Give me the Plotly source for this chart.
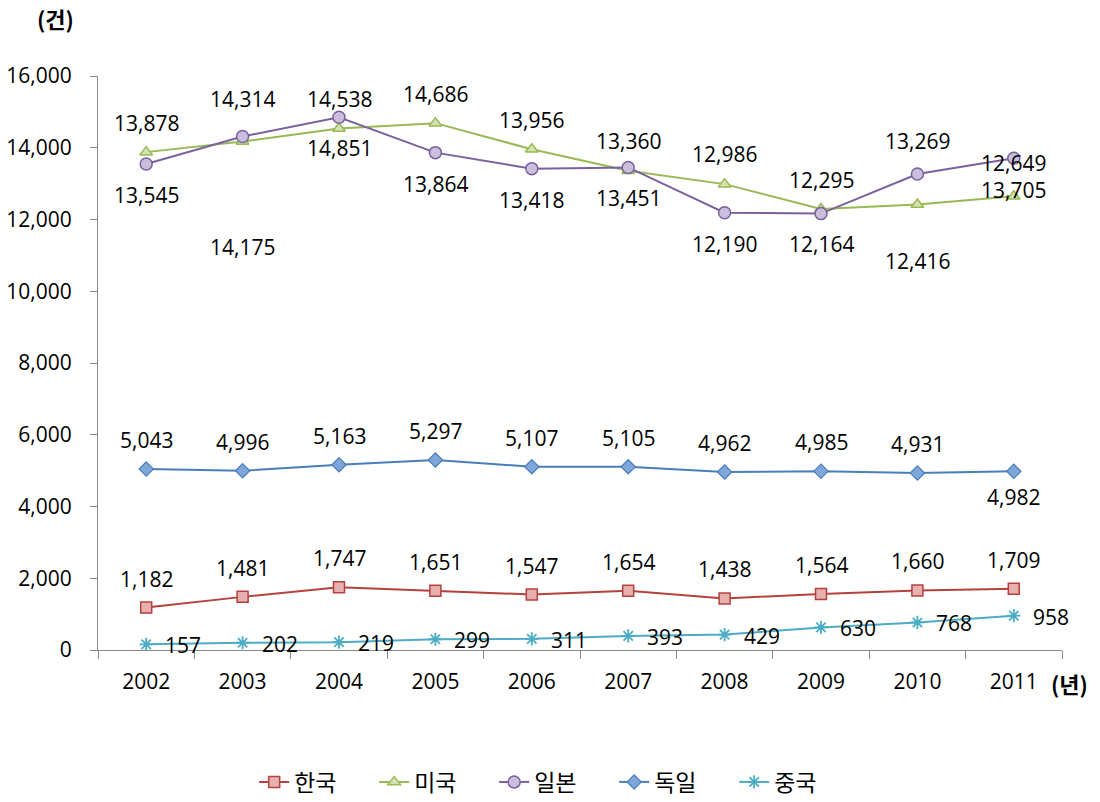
import plotly.graph_objects as go

years = ["2002", "2003", "2004", "2005", "2006", "2007", "2008", "2009", "2010", "2011"]
korea = [1182, 1481, 1747, 1651, 1547, 1654, 1438, 1564, 1660, 1709]
usa = [13878, 14175, 14538, 14686, 13956, 13360, 12986, 12295, 12416, 12649]
japan = [13545, 14314, 14851, 13864, 13418, 13451, 12190, 12164, 13269, 13705]
germany = [5043, 4996, 5163, 5297, 5107, 5105, 4962, 4985, 4931, 4982]
china = [157, 202, 219, 299, 311, 393, 429, 630, 768, 958]
y_ticks = [0, 2000, 4000, 6000, 8000, 10000, 12000, 14000, 16000]

# label offsets in pixels (style only)
lab_up = 29
usa_yshift = [29, -106, 29, 29, 29, 30, 30, 29, -56, 33]
japan_yshift = [-31, 37, -31, -31, -31, -31, -31, -30, 33, -32]
germany_yshift = [29, 29, 29, 29, 29, 29, 29, 29, 29, -26]

FONT = "Open Sans, Noto Sans CJK KR, sans-serif"
KFONT = "Noto Sans CJK KR, sans-serif"
FS = 21

series = [
    ("한국", korea, dict(symbol="square", size=11, color="#E6B0AF", line=dict(color="#B5413E", width=1.5)), "#B5413E"),
    ("미국", usa, dict(symbol="triangle-up", size=11, color="#D3E2B0", line=dict(color="#98B954", width=1.5)), "#98B954"),
    ("일본", japan, dict(symbol="circle", size=12, color="#C9BEDC", line=dict(color="#7A619E", width=1.5)), "#7A619E"),
    ("독일", germany, dict(symbol="diamond", size=11, color="#7EA6D8", line=dict(color="#4A7EBB", width=1.2)), "#4A7EBB"),
    ("중국", china, dict(symbol="asterisk-open", size=11, color="#4BACC6", line=dict(color="#4BACC6", width=1.8)), "#4BACC6"),
]

fig = go.Figure()
for name, vals, marker, col in series:
    fig.add_trace(go.Scatter(
        x=years, y=vals, name=name, mode="lines+markers",
        line=dict(color=col, width=2), marker=marker,
    ))

annotations = []

def add_labels(vals, yshifts=None, xshift=0, const_yshift=0):
    for i, v in enumerate(vals):
        ys = yshifts[i] if yshifts is not None else const_yshift
        annotations.append(dict(
            x=i, y=v, xref="x", yref="y", text=f"{v:,}", showarrow=False,
            xanchor="center", yanchor="middle",
            xshift=xshift, yshift=ys, font=dict(size=FS, color="#000000", family=FONT),
        ))

add_labels(korea, const_yshift=lab_up)
add_labels(usa, yshifts=usa_yshift)
add_labels(japan, yshifts=japan_yshift)
add_labels(germany, yshifts=germany_yshift)
add_labels(china, xshift=37, const_yshift=-1)

annotations.append(dict(x=-0.0446, y=1.101, xref="paper", yref="paper", text="<b>(건)</b>",
                        xanchor="center", yanchor="middle",
                        showarrow=False, font=dict(size=22, color="#000", family=KFONT)))
annotations.append(dict(x=1.008, y=-0.0575, xref="paper", yref="paper", text="<b>(년)</b>",
                        xanchor="center", yanchor="middle",
                        showarrow=False, font=dict(size=22, color="#000", family=KFONT)))

fig.update_layout(
    width=1100, height=802,
    margin=dict(l=98, r=38, t=76, b=152, autoexpand=False),
    paper_bgcolor="white", plot_bgcolor="white",
    font=dict(family=FONT, size=FS, color="#000"),
    showlegend=True,
    legend=dict(orientation="h", x=0.162, xanchor="left",
                yref="container", y=0.025, yanchor="middle",
                font=dict(size=23, family=KFONT, color="#000"),
                entrywidth=75, entrywidthmode="pixels", itemwidth=30),
    annotations=annotations,
    xaxis=dict(type="category", range=[-0.5, 9.5], showline=True, linecolor="#888888", linewidth=1,
               ticks="outside", tickson="boundaries", ticklen=8, tickcolor="#888888",
               showgrid=False, zeroline=False, tickfont=dict(size=FS, family=FONT),
               ticklabelstandoff=13),
    yaxis=dict(range=[0, 16000], tickvals=y_ticks, tickformat=",", showline=True,
               linecolor="#888888", linewidth=1, ticks="outside", ticklen=7, tickcolor="#888888",
               showgrid=False, zeroline=False, tickfont=dict(size=FS, family=FONT),
               ticklabelstandoff=14),
)

fig.write_html("out.html")
